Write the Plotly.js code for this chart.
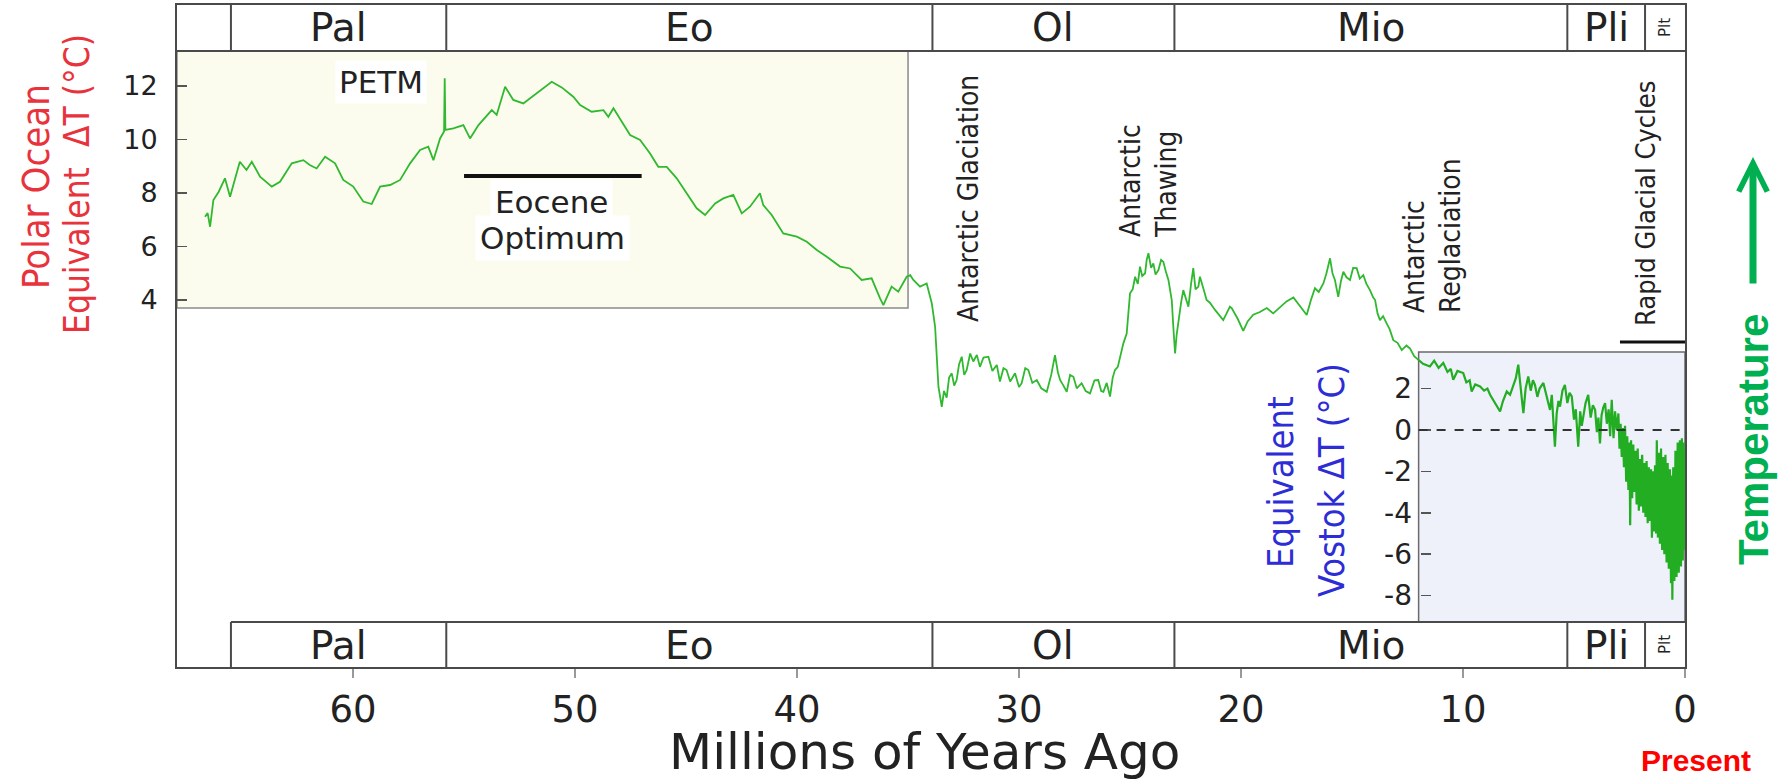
<!DOCTYPE html>
<html><head><meta charset="utf-8">
<script src="https://cdn.plot.ly/plotly-3.0.1.min.js"></script>
<style>html,body{margin:0;padding:0;background:#fff;}#chart{width:1791px;height:784px;}</style>
</head><body><div id="chart"></div>
<script>
// ---------- DATA ----------
// Polar-ocean-equivalent ΔT (°C) segment, age in millions of years
const polarAge = [66.67,66.55,66.44,66.29,66.05,65.77,65.54,65.30,65.10,64.80,64.56,64.19,63.66,63.29,62.76,62.24,61.95,61.64,61.26,60.81,60.44,59.99,59.54,59.16,58.78,58.33,57.88,57.43,56.98,56.61,56.38,56.08,55.90,55.87,55.84,55.48,55.03,54.73,54.35,53.75,53.53,53.15,52.78,52.33,51.73,51.05,50.60,50.08,49.77,49.25,48.72,48.50,48.27,47.90,47.52,47.07,46.62,46.25,45.87,45.42,44.97,44.52,44.14,43.69,43.32,42.87,42.49,42.12,41.67,41.52,41.14,40.62,40.01,39.56,39.11,38.66,38.06,37.61,37.09,36.64,36.26,36.11,35.74,35.44,35.06,34.90,34.76,34.46,34.16,33.93,33.78,33.63,33.48,33.38,33.26,33.15,33.03,32.92,32.81,32.70,32.58,32.47,32.36,32.20,32.06,31.90,31.76,31.60,31.38,31.20,31.00,30.86,30.70,30.56,30.40,30.18,30.00,29.88,29.72,29.58,29.40,29.20,29.00,28.75,28.55,28.38,28.25,28.15,28.00,27.85,27.70,27.55,27.40,27.18,27.00,26.80,26.60,26.43,26.30,26.20,26.05,25.90,25.78,25.68,25.55,25.45,25.30,25.15,25.05,25.00,24.88,24.77,24.65,24.55,24.45,24.32,24.25,24.17,24.05,23.95,23.85,23.72,23.60,23.50,23.38,23.27,23.20,23.12,23.05,22.97,22.90,22.82,22.70,22.60,22.48,22.37,22.25,22.15,22.05,21.92,21.85,21.77,21.65,21.55,21.40,21.17,20.95,20.80,20.50,20.42,20.15,19.90,19.70,19.45,19.15,18.84,18.55,18.24,17.95,17.64,17.35,17.04,16.85,16.67,16.50,16.29,16.15,15.99,15.88,15.77,15.62,15.50,15.39,15.25,15.09,14.95,14.79,14.65,14.49,14.35,14.19,14.05,13.96,13.85,13.74,13.60,13.44,13.30,13.14,12.95,12.76,12.55,12.39,12.20,12.01];
const polarTemp = [7.11,7.25,6.74,7.74,8.05,8.55,7.86,8.60,9.17,8.86,9.17,8.61,8.24,8.42,9.11,9.23,9.05,8.92,9.36,9.11,8.49,8.24,7.68,7.59,8.24,8.30,8.49,9.11,9.61,9.73,9.23,10.04,10.30,12.29,10.36,10.42,10.54,10.04,10.54,11.10,10.92,11.97,11.48,11.35,11.73,12.16,11.95,11.60,11.29,11.04,11.10,10.85,11.17,10.67,10.17,9.98,9.48,8.98,8.98,8.55,7.99,7.43,7.18,7.61,7.80,7.93,7.24,7.49,7.99,7.55,7.18,6.49,6.37,6.18,5.87,5.62,5.25,5.18,4.75,4.81,4.06,3.81,4.50,4.31,4.87,4.93,4.75,4.50,4.62,3.88,3.00,0.76,0.01,0.60,0.35,1.10,1.26,0.80,1.01,1.60,1.88,1.20,1.38,2.00,1.70,1.95,1.50,1.85,1.88,1.35,1.57,0.95,1.45,1.38,0.95,1.26,0.75,0.89,1.45,1.38,0.90,1.01,0.70,0.57,1.20,1.94,1.30,1.01,0.80,0.57,1.20,1.13,0.70,0.89,0.60,0.51,1.00,1.01,0.60,0.57,0.90,0.39,1.10,1.38,1.50,1.88,2.38,2.75,3.60,4.25,4.40,4.87,4.60,5.25,4.90,5.00,5.50,5.75,5.20,5.37,4.95,5.12,5.50,5.43,5.05,4.75,4.40,4.00,3.00,2.00,2.70,3.25,3.90,4.37,4.00,3.75,4.60,5.19,4.40,4.50,4.87,4.60,4.30,4.00,3.90,3.63,3.38,3.25,3.75,3.70,3.30,2.85,3.20,3.45,3.55,3.70,3.50,3.75,3.95,4.10,3.80,3.44,4.00,4.44,4.30,4.62,5.00,5.56,5.00,4.75,4.12,4.70,5.06,4.85,4.75,5.20,5.19,4.80,4.93,4.60,4.37,4.10,4.00,3.50,3.25,3.40,3.13,2.90,2.50,2.40,2.13,2.30,2.19,1.90,1.76];

// Vostok-equivalent ΔT (°C) segment, age in millions of years
const vostokAge = [12.00,11.80,11.49,11.30,11.10,10.89,10.70,10.55,10.44,10.25,9.99,9.85,9.70,9.61,9.45,9.23,9.05,8.90,8.78,8.60,8.45,8.33,8.20,8.03,7.88,7.73,7.62,7.51,7.42,7.35,7.28,7.18,7.06,6.95,6.85,6.76,6.65,6.55,6.38,6.25,6.15,6.08,6.00,5.92,5.86,5.78,5.70,5.63,5.52,5.41,5.30,5.20,5.10,5.00,4.92,4.81,4.72,4.65,4.58,4.48,4.36,4.25,4.15,4.05,3.97,3.90,3.83,3.76,3.68,3.60,3.52,3.44,3.37,3.30,3.22,3.15,3.08,3.00,2.95,2.90,2.85,2.80,2.75,2.70,2.65,2.60,2.55,2.50,2.47,2.43,2.38,2.33,2.28,2.23,2.18,2.13,2.08,2.03,1.98,1.93,1.88,1.83,1.78,1.73,1.68,1.63,1.58,1.53,1.49,1.45,1.40,1.35,1.30,1.27,1.22,1.18,1.13,1.08,1.03,0.98,0.93,0.88,0.83,0.78,0.73,0.68,0.63,0.60,0.57,0.53,0.48,0.43,0.38,0.33,0.28,0.23,0.18,0.14,0.10,0.06,0.03,0.00];
const vostokTemp = [3.38,3.20,3.07,3.35,3.00,3.24,2.80,2.95,2.43,2.85,2.75,2.30,2.40,1.86,2.20,2.10,1.90,2.00,1.70,1.40,1.10,0.89,1.40,1.86,1.70,2.18,2.50,3.16,2.00,1.50,0.81,2.00,2.59,1.90,2.40,2.18,1.60,2.00,2.27,1.70,1.20,0.97,1.70,0.40,-0.81,0.80,1.40,1.13,1.90,2.18,1.30,1.80,1.62,0.50,1.00,-0.81,0.90,0.20,0.65,1.30,1.70,0.60,1.20,0.97,-0.10,0.60,-0.65,0.70,1.10,1.30,0.30,1.00,-0.30,1.46,-0.40,0.90,0.00,0.80,-0.90,0.30,-1.30,0.10,-1.80,0.20,-2.50,-0.30,-2.90,-0.60,-4.60,-0.50,-3.30,-0.70,-3.00,-1.00,-3.60,-0.90,-3.90,-1.40,-3.70,-1.20,-4.00,-1.60,-4.20,-1.50,-4.50,-1.80,-4.40,-1.90,-5.20,-2.00,-4.90,-1.70,-5.00,-0.50,-5.20,-1.10,-5.50,-0.90,-5.80,-1.30,-6.00,-1.20,-6.40,-1.60,-6.70,-1.90,-7.40,-2.20,-8.20,-1.80,-7.30,-1.00,-7.10,-0.60,-6.90,-0.50,-6.60,-0.40,-6.30,-0.60,-5.80,-1.00];

// Geological epochs
const epochNames = ['Pal','Eo','Ol','Mio','Pli','Plt'];
const epochStart = [65.5,55.8,33.9,23.0,5.3,1.8];
const epochEnd   = [55.8,33.9,23.0,5.3,1.8,0.0];

// Tick labels
const xTickVals = [60,50,40,30,20,10,0];
const polarTickVals = [4,6,8,10,12];
const vostokTickVals = [-8,-6,-4,-2,0,2];
const vostokTickText = ['-8','-6','-4','-2','0','2'];

// Event markers (ages, Myr)
const eoceneOptimum = [55.0, 47.0];
const rapidCycles = [2.93, 0.0];

// ---------- LAYOUT HELPERS ----------
const L = 177, TOP = 5, PW = 1508, PH = 662;
const px = x => (x - L) / PW;
const py = y => (TOP + PH - y) / PH;
const SANS = 'DejaVu Sans, Verdana, sans-serif';
const NARROW = 'DejaVu Sans Condensed, Liberation Sans, Arial, sans-serif';
const ARIAL = 'Liberation Sans, Arial, sans-serif';
const FRAME = '#4a4a4a';
const GREEN = '#30b930';

const shapes = [];
// beige Polar Ocean panel
shapes.push({type:'rect', xref:'x', yref:'y', x0:67.93, x1:35.0, y0:3.70, y1:13.31,
  fillcolor:'#fcfcee', line:{color:'#8a8a8a', width:1.5}, layer:'below'});
// lavender Vostok panel
shapes.push({type:'rect', xref:'x', yref:'y2', x0:12.0, x1:0, y0:-9.28, y1:3.77,
  fillcolor:'#eef0fa', line:{color:'#6a6a6a', width:1.5}, layer:'below'});
// zero line in Vostok panel
shapes.push({type:'line', xref:'x', yref:'y2', x0:12.0, x1:0, y0:0, y1:0,
  line:{color:'#333', width:2, dash:'dash'}, layer:'above'});
// Eocene optimum bar
shapes.push({type:'line', xref:'x', yref:'y', x0:eoceneOptimum[0], x1:eoceneOptimum[1], y0:8.64, y1:8.64,
  line:{color:'#111', width:4}});
// Rapid glacial cycles bar
shapes.push({type:'line', xref:'x', yref:'y', x0:rapidCycles[0], x1:rapidCycles[1], y0:2.43, y1:2.43,
  line:{color:'#111', width:3}});
// epoch bands
const bandTop = py(51), bandBot = py(622);
shapes.push({type:'line', xref:'paper', yref:'paper', x0:0, x1:1, y0:bandTop, y1:bandTop, line:{color:FRAME, width:2}});
shapes.push({type:'line', xref:'x', yref:'paper', x0:epochStart[0], x1:0, y0:bandBot, y1:bandBot, line:{color:FRAME, width:2}});
epochStart.forEach(b => {
  shapes.push({type:'line', xref:'x', yref:'paper', x0:b, x1:b, y0:bandTop, y1:1, line:{color:FRAME, width:2}});
  shapes.push({type:'line', xref:'x', yref:'paper', x0:b, x1:b, y0:0, y1:bandBot, line:{color:FRAME, width:2}});
});

const annotations = [];
epochNames.forEach((n, i) => {
  const xm = (epochStart[i] + epochEnd[i]) / 2;
  const small = n === 'Plt';
  [py(28), py(645)].forEach(yy => annotations.push({
    xref:'x', yref:'paper', x:xm, y:yy, text:n, showarrow:false,
    xanchor:'center', yanchor:'middle', textangle: small ? -90 : 0,
    font:{family:SANS, size: small ? 15 : 39, color:'#222'}
  }));
});
function txt(text, x, y, font, extra) {
  annotations.push(Object.assign({xref:'paper', yref:'paper', x:px(x), y:py(y), text:text,
    showarrow:false, xanchor:'center', yanchor:'middle', font:font}, extra || {}));
}
txt('PETM', 381, 82, {family:SANS, size:31, color:'#222'}, {bgcolor:'#ffffff', borderpad:3});
txt('Eocene', 551, 202, {family:SANS, size:31, color:'#222'}, {bgcolor:'#ffffff', borderpad:4});
txt('Optimum', 552, 238, {family:SANS, size:31, color:'#222'}, {bgcolor:'#ffffff', borderpad:4});
txt('Antarctic Glaciation', 969, 198, {family:NARROW, size:28, color:'#222'}, {textangle:-90});
txt('Antarctic<br>Thawing', 1148, 181, {family:NARROW, size:28, color:'#222'}, {textangle:-90, align:'left'});
txt('Antarctic<br>Reglaciation', 1432, 236, {family:NARROW, size:28, color:'#222'}, {textangle:-90, align:'left'});
txt('Rapid Glacial Cycles', 1645, 204, {family:NARROW, size:27, color:'#222'}, {textangle:-90});
txt('Polar Ocean', 36, 187, {family:NARROW, size:38, color:'#e8323c'}, {textangle:-90});
txt('Equivalent  ΔT (°C)', 77, 184, {family:NARROW, size:35, color:'#e8323c'}, {textangle:-90});
txt('Equivalent', 1280, 482, {family:NARROW, size:36, color:'#2d2dd6'}, {textangle:-90});
txt('Vostok ΔT (°C)', 1331, 480, {family:NARROW, size:36, color:'#2d2dd6'}, {textangle:-90});
txt('<b>Temperature</b>', 1753, 440, {family:ARIAL, size:42, color:'#00b050'}, {textangle:-90});
txt('<b>Present</b>', 1696, 760, {family:ARIAL, size:30, color:'#ff0000'});
txt('Millions of Years Ago', 924, 752, {family:SANS, size:50, color:'#222'});
// temperature arrow
annotations.push({xref:'paper', yref:'paper', x:px(1753), y:py(157), text:'', showarrow:true,
  axref:'pixel', ayref:'pixel', ax:0, ay:128, arrowhead:5, arrowsize:0.8, arrowwidth:7, arrowcolor:'#00b050'});

const traces = [
  {x:polarAge, y:polarTemp, type:'scatter', mode:'lines', yaxis:'y',
   line:{color:GREEN, width:1.8}, hoverinfo:'skip'},
  {x:vostokAge, y:vostokTemp, type:'scatter', mode:'lines', yaxis:'y2',
   line:{color:'#22ad22', width:2.2}, hoverinfo:'skip'}
];

const layout = {
  width:1791, height:784,
  margin:{l:L, r:1791-L-PW, t:TOP, b:784-TOP-PH, pad:0},
  paper_bgcolor:'#ffffff', plot_bgcolor:'#ffffff',
  showlegend:false, hovermode:false,
  xaxis:{range:[67.93, 0], autorange:false, showgrid:false, zeroline:false,
    showline:true, mirror:true, linecolor:FRAME, linewidth:2,
    ticks:'outside', ticklen:9, tickwidth:1.5, tickcolor:'#999',
    tickmode:'array', tickvals:xTickVals, ticktext:xTickVals.map(String),
    tickfont:{family:SANS, size:37, color:'#222'}, ticklabelstandoff:0},
  yaxis:{range:[-9.72, 15.03], autorange:false, showgrid:false, zeroline:false,
    showline:true, mirror:true, linecolor:FRAME, linewidth:2,
    ticks:'inside', ticklen:10, tickwidth:1.5, tickcolor:'#555',
    tickmode:'array', tickvals:polarTickVals, ticktext:polarTickVals.map(String),
    tickfont:{family:SANS, size:27, color:'#222'}, ticklabelstandoff:12},
  yaxis2:{overlaying:'y', anchor:'free', position:px(1420), side:'left',
    range:[-11.45, 20.53], autorange:false, showgrid:false, zeroline:false, showline:false,
    ticks:'inside', ticklen:10, tickwidth:1.5, tickcolor:'#555',
    tickmode:'array', tickvals:vostokTickVals, ticktext:vostokTickText,
    tickfont:{family:SANS, size:28, color:'#222'}, ticklabelstandoff:8},
  shapes:shapes,
  annotations:annotations
};

Plotly.newPlot('chart', traces, layout, {staticPlot:true, displayModeBar:false});
</script>
</body></html>
